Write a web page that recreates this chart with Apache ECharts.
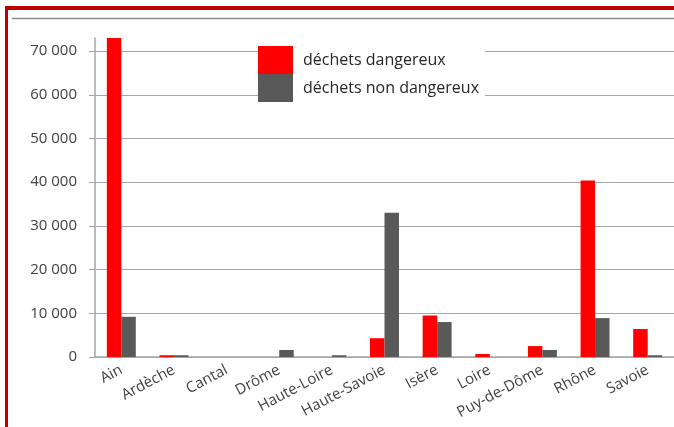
<!DOCTYPE html>
<html>
<head>
<meta charset="utf-8">
<script src="https://cdn.jsdelivr.net/npm/echarts@6/dist/echarts.min.js"></script>
<style>
  html, body { margin: 0; padding: 0; background: #fff; }
  #chart { width: 674px; height: 427px; }
</style>
</head>
<body>
<div id="chart"></div>
<script>
const categories = ["Ain", "Ardèche", "Cantal", "Drôme", "Haute-Loire", "Haute-Savoie",
  "Isère", "Loire", "Puy-de-Dôme", "Rhône", "Savoie"];
const dangerous = [73000, 400, 0, 0, 0, 4300, 9500, 700, 2500, 40400, 6400];
const nonDangerous = [9200, 400, 0, 1600, 400, 33000, 8000, 0, 1600, 8900, 400];
const seriesNames = ["déchets dangereux", "déchets non dangereux"];

const fmt = (v) => String(v).replace(/\B(?=(\d{3})+(?!\d))/g, " ");
const font = "'Open Sans', sans-serif";

const chart = echarts.init(document.getElementById("chart"));
chart.setOption({
  animation: false,
  textStyle: { fontFamily: font },
  graphic: [
    { type: "rect", shape: { x: 5, y: 6, width: 700, height: 4 }, style: { fill: "#c00000" }, z: 100 },
    { type: "rect", shape: { x: 5, y: 6, width: 3, height: 430 }, style: { fill: "#c00000" }, z: 100 },
    { type: "line", shape: { x1: 12, y1: 18.5, x2: 674, y2: 18.5 }, style: { stroke: "#8c8c8c", lineWidth: 1.5 } }
  ],
  grid: { left: 95, right: 0, top: 38, bottom: 70 },
  legend: {
    orient: "vertical",
    left: 258,
    top: 46,
    itemWidth: 35,
    itemHeight: 28,
    itemGap: 0,
    padding: [0, 6, 0, 0],
    backgroundColor: "#fff",
    icon: "rect",
    textStyle: { fontFamily: font, fontSize: 16, color: "#262626", padding: [0, 0, 0, 5] },
    data: seriesNames
  },
  xAxis: {
    type: "category",
    data: categories,
    axisLine: { lineStyle: { color: "#a6a6a6", width: 1.5 } },
    axisTick: { length: 6, lineStyle: { color: "#a6a6a6" } },
    axisLabel: { rotate: 28, margin: 12, fontSize: 15, color: "#404040", interval: 0 }
  },
  yAxis: {
    type: "value",
    min: 0,
    max: 73000,
    interval: 10000,
    axisLine: { show: true, lineStyle: { color: "#a6a6a6", width: 1.5 } },
    axisTick: { show: true, length: 6, lineStyle: { color: "#a6a6a6" } },
    axisLabel: { formatter: fmt, fontSize: 15, color: "#404040", margin: 18, showMaxLabel: false },
    splitLine: { show: true, showMaxLine: false, lineStyle: { color: "#a6a6a6", width: 1.2 } }
  },
  series: [
    { name: seriesNames[0], type: "bar", data: dangerous, barGap: "0%", barCategoryGap: "45%",
      itemStyle: { color: "#ff0000" } },
    { name: seriesNames[1], type: "bar", data: nonDangerous,
      itemStyle: { color: "#595959" } }
  ]
});
</script>
</body>
</html>
